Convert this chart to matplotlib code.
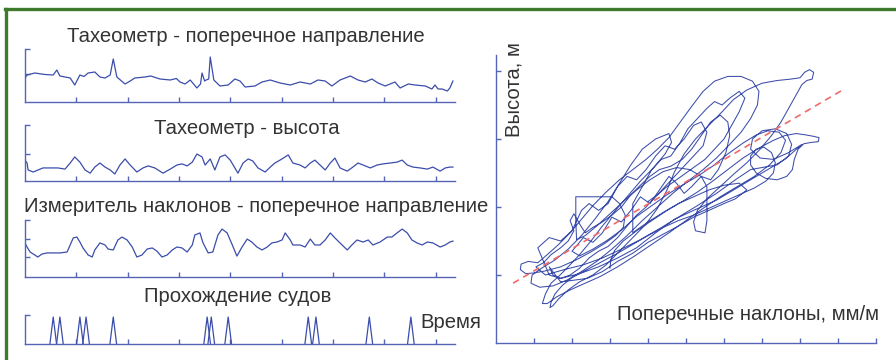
import numpy as np
import matplotlib
matplotlib.use("Agg")
import matplotlib.pyplot as plt
from matplotlib.lines import Line2D

plt.rcParams['font.family'] = ['Liberation Sans', 'DejaVu Sans']

# ---------------- data ----------------
# Panel 1: Тахеометр - поперечное направление
t1 = [0.00, 0.04, 0.19, 0.39, 0.55, 0.62, 0.68, 0.88, 0.97, 1.07, 1.15, 1.23, 1.36, 1.46, 1.56, 1.66,
      1.72, 1.79, 1.95, 2.05, 2.14, 2.34, 2.45, 2.63, 2.83, 2.95, 3.02, 3.12, 3.22, 3.35, 3.42, 3.45,
      3.50, 3.53, 3.58, 3.61, 3.68, 3.80, 3.96, 4.09, 4.19, 4.29, 4.48, 4.62, 4.78, 4.97, 5.17, 5.36,
      5.56, 5.71, 5.85, 5.98, 6.14, 6.34, 6.49, 6.63, 6.76, 6.88, 7.02, 7.21, 7.31, 7.47, 7.60, 7.80,
      7.93, 7.99, 8.05, 8.13, 8.23, 8.28, 8.34]
y1 = [0.84, 0.96, 1.04, 0.98, 0.96, 1.16, 0.92, 0.84, 0.56, 0.96, 0.90, 1.04, 1.08, 0.88, 0.84, 0.96,
      1.60, 0.88, 0.60, 0.72, 0.84, 0.88, 0.92, 0.80, 0.76, 0.82, 0.68, 0.60, 0.76, 0.44, 0.60, 1.04,
      0.72, 0.76, 0.80, 1.68, 0.76, 0.52, 0.56, 0.80, 0.72, 0.48, 0.52, 0.68, 0.76, 0.64, 0.56, 0.68,
      0.60, 0.76, 0.72, 0.52, 0.76, 0.92, 0.76, 0.68, 0.80, 0.64, 0.52, 0.68, 0.44, 0.60, 0.56, 0.52,
      0.40, 0.56, 0.40, 0.40, 0.32, 0.44, 0.72]

# Panel 2: Тахеометр - высота
t2 = [0.00, 0.04, 0.06, 0.16, 0.35, 0.49, 0.64, 0.78, 0.88, 0.97, 1.07, 1.17, 1.27, 1.36, 1.46, 1.56,
      1.66, 1.75, 1.85, 1.95, 2.05, 2.18, 2.30, 2.40, 2.53, 2.69, 2.83, 2.96, 3.06, 3.16, 3.26, 3.35,
      3.45, 3.51, 3.61, 3.70, 3.80, 3.90, 4.00, 4.09, 4.15, 4.25, 4.35, 4.44, 4.54, 4.68, 4.78, 4.87,
      4.97, 5.07, 5.13, 5.22, 5.36, 5.46, 5.56, 5.65, 5.75, 5.85, 5.95, 6.04, 6.14, 6.28, 6.39, 6.49,
      6.59, 6.73, 6.86, 6.98, 7.12, 7.25, 7.35, 7.45, 7.56, 7.70, 7.84, 7.95, 8.09, 8.19, 8.28, 8.34]
y2 = [0.79, 0.69, 0.45, 0.38, 0.52, 0.52, 0.52, 0.48, 0.69, 0.90, 0.72, 0.45, 0.34, 0.55, 0.69, 0.55,
      0.45, 0.31, 0.62, 0.83, 0.62, 0.38, 0.52, 0.59, 0.52, 0.34, 0.48, 0.62, 0.66, 0.59, 0.72, 1.00,
      0.90, 0.62, 0.83, 0.45, 0.90, 0.97, 0.79, 0.52, 0.34, 0.69, 0.83, 0.76, 0.52, 0.38, 0.55, 0.69,
      0.79, 0.90, 0.97, 0.69, 0.62, 0.52, 0.69, 0.79, 0.62, 0.45, 0.69, 0.86, 0.52, 0.41, 0.55, 0.69,
      0.62, 0.52, 0.62, 0.66, 0.69, 0.72, 0.79, 0.62, 0.55, 0.52, 0.48, 0.55, 0.41, 0.52, 0.55, 0.55]

# Panel 3: Измеритель наклонов - поперечное направление
t3 = [0.00, 0.04, 0.10, 0.19, 0.25, 0.33, 0.43, 0.55, 0.68, 0.82, 0.88, 0.94, 1.01, 1.07, 1.13, 1.23,
      1.31, 1.36, 1.46, 1.56, 1.62, 1.72, 1.81, 1.89, 1.99, 2.09, 2.18, 2.28, 2.38, 2.48, 2.57, 2.67,
      2.77, 2.87, 2.96, 3.06, 3.16, 3.26, 3.31, 3.41, 3.47, 3.57, 3.66, 3.76, 3.84, 3.94, 4.04, 4.13,
      4.23, 4.33, 4.42, 4.52, 4.62, 4.72, 4.81, 4.91, 5.01, 5.07, 5.17, 5.22, 5.36, 5.46, 5.56, 5.65,
      5.75, 5.85, 5.95, 6.04, 6.14, 6.28, 6.37, 6.47, 6.59, 6.69, 6.78, 6.92, 7.06, 7.15, 7.25, 7.35,
      7.45, 7.54, 7.64, 7.74, 7.84, 7.95, 8.09, 8.19, 8.28, 8.34]
y3 = [1.76, 1.54, 1.27, 1.11, 1.00, 1.16, 1.22, 1.22, 1.22, 1.27, 1.65, 2.03, 2.08, 1.81, 1.49, 1.11,
      1.00, 1.38, 1.76, 1.65, 1.43, 1.38, 1.92, 2.08, 1.92, 1.54, 1.00, 1.11, 1.43, 1.49, 1.32, 1.00,
      1.11, 1.38, 1.54, 1.49, 1.27, 1.65, 2.19, 2.30, 1.76, 1.22, 1.27, 2.19, 2.51, 2.30, 1.65, 1.05,
      1.54, 1.97, 1.81, 1.54, 1.38, 1.54, 1.76, 1.81, 1.92, 2.30, 1.92, 1.65, 1.65, 1.54, 1.97, 1.65,
      1.65, 1.92, 2.30, 2.03, 1.76, 1.38, 1.65, 1.92, 1.81, 1.92, 1.65, 1.81, 2.08, 2.08, 2.30, 2.51,
      2.30, 1.92, 1.76, 1.65, 1.81, 1.76, 1.54, 1.65, 1.81, 1.86]

# Panel 4: Прохождение судов (moments of ship passage)
ship_times = [0.55, 0.68, 1.07, 1.19, 1.72, 3.55, 3.63, 3.96, 5.52, 5.67, 6.71, 7.52]
ship_level = 0.93

# Right panel: height vs transverse tilt trajectory, as consecutive strokes (tilt, height)
loop_a = [(3.00, 1.10), (3.02, 1.22), (3.12, 1.36), (3.35, 1.50), (3.70, 1.65), (4.10, 1.80), (4.50, 1.95),
          (4.90, 2.08), (5.30, 2.22), (5.70, 2.38), (6.10, 2.55), (6.50, 2.72), (6.90, 2.86), (7.30, 2.98),
          (7.60, 3.05), (7.90, 3.08), (8.15, 3.06), (8.35, 3.04), (8.50, 3.02), (8.48, 2.96), (8.30, 2.95),
          (8.10, 2.93), (7.95, 2.85), (7.85, 2.70), (7.80, 2.55), (7.65, 2.45), (7.40, 2.40), (7.10, 2.42),
          (6.85, 2.50), (6.70, 2.62), (6.70, 2.75), (6.85, 2.85), (7.05, 2.88), (7.25, 2.80), (7.35, 2.65),
          (7.30, 2.50), (7.10, 2.38), (6.80, 2.28), (6.40, 2.18), (6.00, 2.08), (5.60, 1.98), (5.20, 1.88),
          (4.80, 1.80), (4.40, 1.70), (4.00, 1.58), (3.60, 1.45), (3.20, 1.32), (2.80, 1.20), (2.40, 1.08),
          (2.00, 0.96), (1.75, 0.85), (1.55, 0.72), (1.45, 0.60), (1.42, 0.52), (1.50, 0.55), (1.65, 0.65),
          (1.90, 0.78), (2.20, 0.90), (2.55, 1.00)]
loop_b = [(2.90, 1.15), (3.25, 1.35), (3.60, 1.55), (3.95, 1.75), (4.25, 1.98), (4.50, 2.25), (4.70, 2.52),
          (4.95, 2.78), (5.25, 3.00), (5.60, 3.20), (5.95, 3.40), (6.25, 3.58), (6.60, 3.72), (7.00, 3.82),
          (7.40, 3.86), (7.75, 3.88), (8.00, 3.90), (8.12, 3.98), (8.25, 4.02), (8.36, 3.98), (8.32, 3.88),
          (8.18, 3.86), (8.05, 3.80), (7.90, 3.65), (7.70, 3.45), (7.50, 3.25), (7.25, 3.05), (6.95, 2.85),
          (6.60, 2.65), (6.25, 2.48), (5.90, 2.30), (5.55, 2.12), (5.30, 1.95), (5.20, 1.78), (5.25, 1.65),
          (5.50, 1.62), (5.55, 1.80), (5.55, 2.05), (5.55, 2.30), (5.40, 2.45), (5.10, 2.55), (4.75, 2.58),
          (4.40, 2.52), (4.05, 2.40), (3.70, 2.25), (3.35, 2.08), (3.00, 1.90), (2.65, 1.72), (2.35, 1.58),
          (2.12, 1.52), (2.10, 1.80), (2.10, 2.15), (2.60, 2.15), (3.05, 2.15), (3.25, 2.05), (3.40, 1.88),
          (3.35, 1.70), (3.15, 1.58), (2.85, 1.46), (2.50, 1.34), (2.10, 1.22), (1.70, 1.12), (1.30, 1.06),
          (1.00, 1.03), (0.78, 1.02), (0.64, 1.08), (0.66, 1.16), (0.85, 1.20), (1.10, 1.18)]
loop_c = [(1.35, 1.30), (1.65, 1.45), (1.95, 1.62), (2.25, 1.82), (2.55, 2.02), (2.90, 2.22), (3.25, 2.40),
          (3.60, 2.55), (3.95, 2.70), (4.25, 2.85), (4.55, 3.02), (4.85, 3.25), (5.15, 3.48), (5.45, 3.70),
          (5.75, 3.85), (6.10, 3.92), (6.45, 3.92), (6.75, 3.85), (6.92, 3.70), (6.88, 3.50), (6.70, 3.30),
          (6.45, 3.10), (6.15, 2.92), (5.80, 2.72), (5.45, 2.55), (5.05, 2.38), (4.65, 2.20), (4.25, 2.00),
          (3.85, 1.80), (3.45, 1.58), (3.05, 1.38), (2.65, 1.20), (2.25, 1.05), (1.85, 0.92), (1.50, 0.84),
          (1.15, 0.82), (0.92, 0.88), (0.95, 1.00), (1.20, 1.10), (1.55, 1.22), (1.90, 1.38), (2.25, 1.58),
          (2.60, 1.82), (2.95, 2.08), (3.25, 2.35), (3.55, 2.62), (3.85, 2.85), (4.20, 3.00), (4.55, 3.08),
          (4.62, 2.95), (4.45, 2.78), (4.15, 2.58), (3.80, 2.38), (3.45, 2.15), (3.10, 1.92), (2.80, 1.72),
          (2.50, 1.50), (2.20, 1.30), (1.90, 1.12), (1.65, 0.98), (1.45, 0.88), (1.30, 0.72), (1.22, 0.58),
          (1.35, 0.58), (1.60, 0.68), (1.95, 0.78), (2.35, 0.88), (2.75, 0.98)]
loop_d = [(3.20, 1.12), (3.65, 1.28), (4.10, 1.45), (4.55, 1.62), (5.00, 1.80), (5.45, 1.98), (5.90, 2.15),
          (6.35, 2.30), (6.80, 2.45), (7.20, 2.62), (7.50, 2.80), (7.62, 2.98), (7.45, 3.10), (7.15, 3.12),
          (6.85, 3.06), (6.50, 2.94), (6.10, 2.78), (5.70, 2.60), (5.30, 2.45), (4.90, 2.32), (4.50, 2.18),
          (4.10, 2.02), (3.70, 1.86), (3.30, 1.66), (2.90, 1.50), (2.55, 1.38), (2.20, 1.28)]
loop_e = [(2.00, 1.35), (2.30, 1.55), (2.55, 1.48), (2.80, 1.62), (3.05, 1.85), (3.30, 1.78), (3.55, 1.95),
          (3.80, 2.15), (4.05, 2.05), (4.30, 2.25), (4.55, 2.45), (4.75, 2.35), (4.95, 2.20), (5.15, 2.30),
          (5.40, 2.45), (5.65, 2.40), (5.85, 2.55), (6.05, 2.80), (6.15, 3.05), (6.10, 3.25), (5.90, 3.35),
          (5.65, 3.25), (5.40, 3.05), (5.15, 2.85), (4.90, 2.70), (4.60, 2.60), (4.30, 2.55), (4.05, 2.45),
          (3.80, 2.32), (3.55, 2.18), (3.30, 2.00), (3.05, 1.88), (2.80, 1.78), (2.55, 1.70), (2.35, 1.62),
          (2.20, 1.75), (2.05, 1.90), (1.95, 1.80), (2.05, 1.65), (1.90, 1.50), (1.70, 1.40), (1.45, 1.30),
          (1.25, 1.18), (1.05, 1.12)]
loop_f = [(1.30, 1.00), (1.80, 1.08), (2.30, 1.15), (2.80, 1.25), (3.30, 1.38), (3.80, 1.52), (4.30, 1.68),
          (4.80, 1.85), (5.30, 2.02), (5.80, 2.20), (6.30, 2.40), (6.70, 2.55), (7.00, 2.58), (7.40, 2.62),
          (7.70, 2.75), (7.78, 2.92), (7.65, 3.08), (7.35, 3.15), (7.00, 3.12), (6.75, 3.00), (6.70, 2.85),
          (6.95, 2.72), (7.30, 2.70), (7.70, 2.80), (8.05, 2.92)]
loop_g = [(7.60, 2.70), (7.00, 2.50), (6.40, 2.30), (5.80, 2.10), (5.20, 1.95), (4.70, 1.82), (4.20, 1.62),
          (3.70, 1.40), (3.20, 1.25), (2.70, 1.12), (2.20, 1.02), (1.70, 0.95), (1.40, 1.00), (1.10, 1.40),
          (1.40, 1.55), (1.70, 1.50), (2.00, 1.65), (2.25, 1.95), (2.45, 2.05), (2.70, 1.95), (2.95, 2.05),
          (3.20, 2.30), (3.45, 2.45), (3.70, 2.40), (3.95, 2.55), (4.20, 2.75), (4.45, 2.90), (4.70, 2.85),
          (4.95, 3.00), (5.20, 3.20), (5.40, 3.25), (5.55, 3.10), (5.45, 2.90), (5.20, 2.75), (4.95, 2.60),
          (4.70, 2.45), (4.45, 2.30), (4.20, 2.15), (3.95, 2.00), (3.70, 1.88), (3.45, 1.72), (3.20, 1.55),
          (2.95, 1.42), (2.70, 1.35), (2.45, 1.25), (2.20, 1.10), (1.95, 1.00), (1.70, 0.95), (1.50, 1.00),
          (1.40, 1.12)]
loop_h = [(1.70, 0.90), (2.00, 0.92), (2.40, 0.95), (2.80, 1.05), (3.20, 1.20), (3.60, 1.32), (4.00, 1.48),
          (4.40, 1.60), (4.80, 1.72), (5.20, 1.85), (5.60, 1.95), (6.00, 2.05), (6.30, 2.12), (6.60, 2.25),
          (6.40, 2.35), (6.00, 2.32), (5.60, 2.25), (5.20, 2.15), (4.80, 2.05), (4.40, 1.92), (4.00, 1.78),
          (3.60, 1.62), (3.60, 2.05), (3.85, 2.30), (4.10, 2.55), (4.35, 2.70), (4.60, 2.75), (4.85, 2.95),
          (5.05, 3.15), (5.30, 3.30), (5.55, 3.45), (5.75, 3.55), (5.95, 3.50), (6.15, 3.60), (6.40, 3.70),
          (6.55, 3.60), (6.40, 3.40), (6.20, 3.20), (6.00, 3.00), (5.75, 2.85), (5.50, 2.70), (5.25, 2.60),
          (5.00, 2.50), (4.75, 2.40), (4.50, 2.30), (4.25, 2.18), (4.00, 2.08)]
loop_strokes = [loop_a, loop_b, loop_c, loop_d, loop_e, loop_f, loop_g, loop_h]

# regression line end points (tilt, height)
fit_x = [0.45, 9.18]
fit_y = [0.88, 3.74]

# ---------------- styles ----------------
BLUE = '#3b4dab'
AXC = '#5564b4'
RED = '#ef6a6a'
TXT = '#333333'
GREEN = '#3e7a2c'

fig = plt.figure(figsize=(8.96, 3.6), dpi=100)
fig.patch.set_facecolor('white')


def style_axes(ax):
    for s in ['top', 'right']:
        ax.spines[s].set_visible(False)
    for s in ['left', 'bottom']:
        ax.spines[s].set_color(AXC)
        ax.spines[s].set_linewidth(1.0)
    ax.tick_params(direction='in', length=3.5, width=1.0, color=AXC,
                   labelleft=False, labelbottom=False)
    ax.set_facecolor('none')


L, W = 25 / 896, 430 / 896
xt = [1, 2, 3, 4, 5, 6, 7, 8]
xmax = 8.38

ax1 = fig.add_axes([L, 1 - 102 / 360, W, 53 / 360])
ax1.plot(t1, y1, color=BLUE, lw=0.9)
ax1.set_xlim(0, xmax)
ax1.set_ylim(-0.12, 2.0)
ax1.set_xticks(xt)
ax1.set_yticks([1, 2])
style_axes(ax1)

ax2 = fig.add_axes([L, 1 - 181 / 360, W, 56 / 360])
ax2.plot(t2, y2, color=BLUE, lw=0.9)
ax2.set_xlim(0, xmax)
ax2.set_ylim(0.07, 2.0)
ax2.set_xticks(xt)
ax2.set_yticks([1, 2])
style_axes(ax2)

ax3 = fig.add_axes([L, 1 - 277 / 360, W, 57 / 360])
ax3.plot(t3, y3, color=BLUE, lw=0.9)
ax3.set_xlim(0, xmax)
ax3.set_ylim(-0.08, 3.0)
ax3.set_xticks(xt)
ax3.set_yticks([1, 2, 3])
style_axes(ax3)

ax4 = fig.add_axes([L, 1 - 344 / 360, W, 29 / 360])
hw = 0.065
for ts in ship_times:
    ax4.plot([ts - hw, ts, ts + hw], [0, ship_level, 0], color=BLUE, lw=0.9)
ax4.set_xlim(0, xmax)
ax4.set_ylim(0, 1.0)
ax4.set_xticks(xt)
ax4.set_yticks([1])
style_axes(ax4)

axr = fig.add_axes([496 / 896, 1 - 343 / 360, 380 / 896, 288 / 360])
path = np.array([p for stroke in loop_strokes for p in stroke])
axr.plot(path[:, 0], path[:, 1], color=BLUE, lw=0.75)
axr.plot(fit_x, fit_y, color=RED, lw=1.2, ls=(0, (4, 3)))
axr.set_xlim(0, 10)
axr.set_ylim(0, 4.235)
axr.set_xticks(range(1, 11))
axr.set_yticks([1, 2, 3, 4])
style_axes(axr)

fs = 14.6
fig.text(246 / 896, 1 - 37 / 360, 'Тахеометр - поперечное направление', ha='center', va='center', fontsize=fs, color=TXT)
fig.text(247 / 896, 1 - 128 / 360, 'Тахеометр - высота', ha='center', va='center', fontsize=fs, color=TXT)
fig.text(256 / 896, 1 - 206 / 360, 'Измеритель наклонов - поперечное направление', ha='center', va='center', fontsize=fs, color=TXT)
fig.text(238 / 896, 1 - 297 / 360, 'Прохождение судов', ha='center', va='center', fontsize=fs, color=TXT)
fig.text(451 / 896, 1 - 323 / 360, 'Время', ha='center', va='center', fontsize=fs, color=TXT)
fig.text(514 / 896, 1 - 90 / 360, 'Высота, м', ha='center', va='center', fontsize=fs, color=TXT, rotation=90)
fig.text(748 / 896, 1 - 315 / 360, 'Поперечные наклоны, мм/м', ha='center', va='center', fontsize=fs, color=TXT)

# green frame
fig.add_artist(Line2D([5 / 896, 1], [1 - 9 / 360, 1 - 9 / 360], transform=fig.transFigure, color=GREEN, lw=2.4))
fig.add_artist(Line2D([6 / 896, 6 / 896], [0, 1 - 9 / 360], transform=fig.transFigure, color=GREEN, lw=2.4))

fig.savefig('out.png', dpi=100)
